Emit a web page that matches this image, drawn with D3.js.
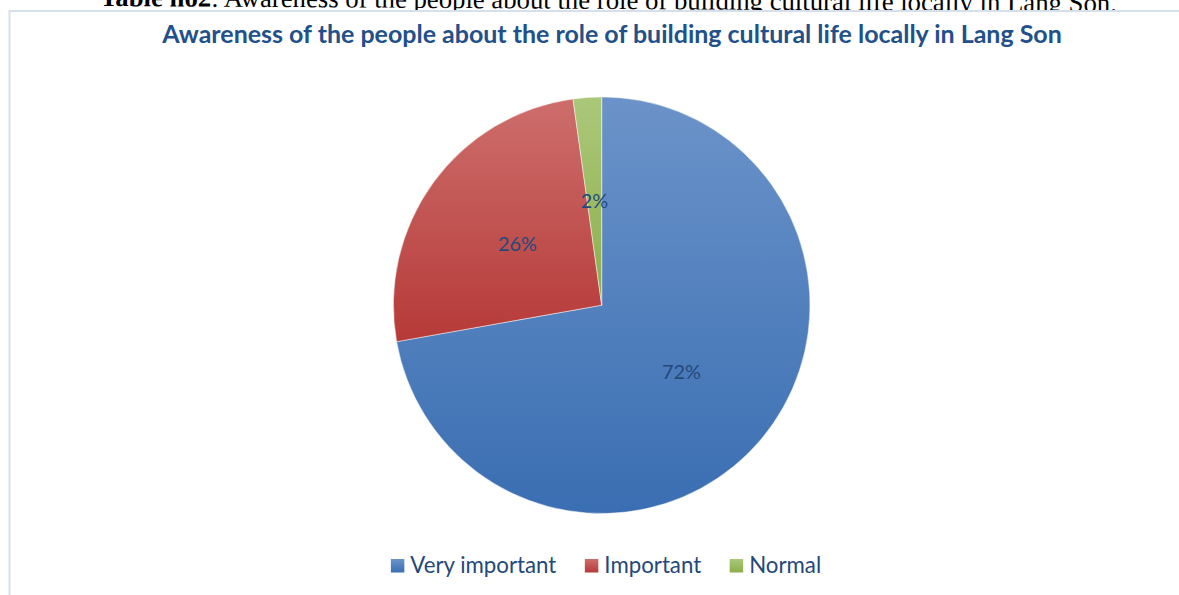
<!DOCTYPE html>
<html>
<head>
<meta charset="utf-8">
<script src="https://cdn.jsdelivr.net/npm/d3@7"></script>
<style>
  html, body { margin: 0; padding: 0; background: #ffffff; overflow: hidden; }
  svg { display: block; }
</style>
</head>
<body>
<svg id="chart" width="1179" height="595"></svg>
<script>
// Survey answers: share of respondents (%)
const categories = ["Very important", "Important", "Normal"];
const shares = [72.2, 25.6, 2.2];
const labels = ["72%", "26%", "2%"];
const colorTop = ["#6b93c9", "#cd6e6c", "#abc87a"];
const colorBottom = ["#3a6eb2", "#b63a38", "#8cae4b"];

const captionBold = "Table no2";
const captionRest = ": Awareness of the people about the role of building cultural life locally in Lang Son.";
const title = "Awareness of the people about the role of building cultural life locally in Lang Son";

const W = 1179, H = 595;
const svg = d3.select("#chart");
const defs = svg.append("defs");

// fit a text element's font size so it spans the wanted width
function fitWidth(sel, target) {
  const fs = parseFloat(sel.attr("font-size"));
  const w = sel.node().getComputedTextLength();
  sel.attr("font-size", fs * target / w);
}

// document caption above the chart frame (partly cut by the page edge)
const cap = svg.append("text")
  .attr("x", 100).attr("y", 6)
  .attr("font-family", "Liberation Serif, Times New Roman, serif")
  .attr("font-size", 24).attr("fill", "#000")
  .attr("transform", "rotate(0.33 100 6)");
cap.append("tspan").attr("font-weight", "bold").text(captionBold);
cap.append("tspan").text(captionRest);
fitWidth(cap, 1017);

// chart frame
svg.append("rect")
  .attr("x", 9.5).attr("y", 11)
  .attr("width", W + 10).attr("height", H + 10)
  .attr("fill", "#fff")
  .attr("stroke", "#d5e0ec").attr("stroke-width", 2);

// chart title
const t = svg.append("text")
  .attr("x", 612).attr("y", 42.5)
  .attr("text-anchor", "middle")
  .attr("font-family", "Lato, Carlito, Calibri, sans-serif")
  .attr("font-weight", "bold")
  .attr("font-size", 22)
  .attr("fill", "#22508a")
  .text(title);
fitWidth(t, 900);

// per-slice vertical gradients
categories.forEach((c, i) => {
  const g = defs.append("linearGradient")
    .attr("id", "grad" + i)
    .attr("x1", 0).attr("y1", 0).attr("x2", 0).attr("y2", 1);
  g.append("stop").attr("offset", "0%").attr("stop-color", colorTop[i]);
  g.append("stop").attr("offset", "100%").attr("stop-color", colorBottom[i]);
});

// pie
const cx = 601.7, cy = 305.2, R = 208.3;
const data = categories.map((c, i) => ({ name: c, value: shares[i], label: labels[i], i }));
const pie = d3.pie().sort(null).value(d => d.value);
const arc = d3.arc().innerRadius(0).outerRadius(R);
const labelArc = d3.arc().innerRadius(R * 0.5).outerRadius(R * 0.5);
const arcs = pie(data);

const gp = svg.append("g").attr("transform", `translate(${cx},${cy})`);
gp.selectAll("path.slice")
  .data(arcs)
  .join("path")
  .attr("class", "slice")
  .attr("d", arc)
  .attr("fill", d => `url(#grad${d.data.i})`)
  .attr("stroke", "#ffffff")
  .attr("stroke-opacity", 0.6)
  .attr("stroke-width", 0.8);

const lab = gp.selectAll("text.lab")
  .data(arcs)
  .join("text")
  .attr("class", "lab")
  .attr("transform", d => `translate(${labelArc.centroid(d)})`)
  .attr("text-anchor", "middle")
  .attr("dy", "0.36em")
  .attr("font-family", "Lato, Carlito, Calibri, sans-serif")
  .attr("font-size", 21)
  .attr("fill", "#234a7c")
  .text(d => d.data.label);
// size labels so "72%" spans about 39px
{
  const w = lab.filter(d => d.data.i === 0).node().getComputedTextLength();
  lab.attr("font-size", 21 * 39 / w);
}

// legend
const lg = svg.append("g");
const sw = 13.5, gapText = 6, gapItem = 28.5;
const items = lg.selectAll("g.item").data(data).join("g").attr("class", "item");
items.append("rect")
  .attr("width", sw).attr("height", sw)
  .attr("fill", d => `url(#grad${d.i})`);
const lt = items.append("text")
  .attr("x", sw + gapText)
  .attr("y", sw)
  .attr("font-family", "Lato, Carlito, Calibri, sans-serif")
  .attr("font-size", 21)
  .attr("fill", "#24487a")
  .text(d => d.name);
{
  const w = lt.filter(d => d.i === 0).node().getComputedTextLength();
  lt.attr("font-size", 21 * 146 / w);
}
let x = 0;
const widths = [];
items.each(function (d, i) {
  const tw = d3.select(this).select("text").node().getComputedTextLength();
  d3.select(this).attr("transform", `translate(${x},0)`);
  x += sw + gapText + tw + gapItem;
});
const total = x - gapItem;
lg.attr("transform", `translate(${606 - total / 2},${559})`);
</script>
</body>
</html>
